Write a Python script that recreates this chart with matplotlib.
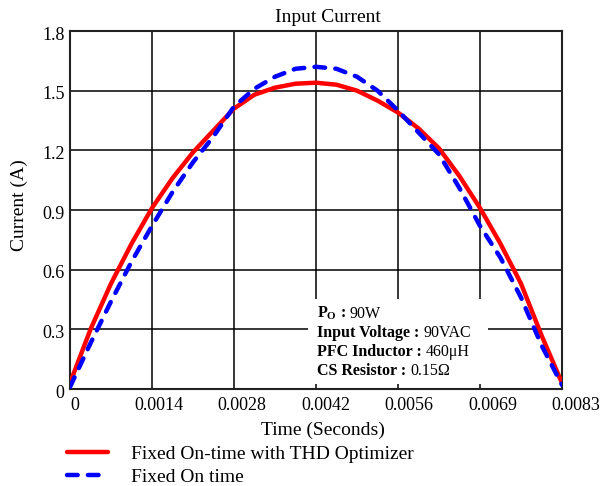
import numpy as np
import matplotlib
matplotlib.use('Agg')
import matplotlib.pyplot as plt
from matplotlib.patches import Rectangle
from matplotlib.transforms import ScaledTranslation

plt.rcParams['font.family'] = ['Liberation Serif', 'DejaVu Serif']
plt.rcParams['mathtext.fontset'] = 'custom'
plt.rcParams['mathtext.rm'] = 'Liberation Serif'
plt.rcParams['mathtext.bf'] = 'Liberation Serif:bold'

# Data (half line cycle, 1/120 s)
period = 1.0 / 120.0
n_points = 25
time_s = np.linspace(0, period, n_points)

current_thd_opt = [0.03, 0.30, 0.53, 0.73, 0.91, 1.06, 1.19, 1.30, 1.41, 1.48,
                   1.515, 1.535, 1.54, 1.53, 1.50, 1.45, 1.39, 1.31, 1.21, 1.07,
                   0.91, 0.73, 0.53, 0.27, 0.03]
current_fixed_on = [0.01, 0.23, 0.44, 0.64, 0.82, 0.99, 1.14, 1.27, 1.42, 1.51,
                    1.57, 1.61, 1.62, 1.61, 1.57, 1.50, 1.40, 1.29, 1.18, 1.01,
                    0.82, 0.66, 0.46, 0.22, 0.02]

x_ticks = np.linspace(0, period, 7)
x_tick_labels = ['0', '0.0014', '0.0028', '0.0042', '0.0056', '0.0069', '0.0083']
y_ticks = [0, 0.3, 0.6, 0.9, 1.2, 1.5, 1.8]
y_tick_labels = ['0', '0.3', '0.6', '0.9', '1.2', '1.5', '1.8']

series_labels = ['Fixed On-time with THD Optimizer', 'Fixed On time']

# (bold part, regular part) for the parameter box
info_bold = [r'$\mathbf{P_O}$ :', 'Input Voltage :', 'PFC Inductor :', 'CS Resistor :']
info_value = ['90W', '90VAC', '460μH', '0.15Ω']

fig = plt.figure(figsize=(6.03, 4.86), dpi=100)
ax = fig.add_axes([70 / 603, 1 - 389 / 486, 492 / 603, 358 / 486])

red_line, = ax.plot(time_s, current_thd_opt, color='#ff0000', lw=3.2,
                    solid_capstyle='round', zorder=3)
blue_line, = ax.plot(time_s, current_fixed_on, color='#0000ff', lw=3.2,
                     dashes=(2.4, 2.3), dash_capstyle='round', zorder=4)

ax.set_xlim(0, period)
ax.set_ylim(0, 1.8)
ax.set_xticks(x_ticks)
ax.set_xticklabels(x_tick_labels)
ax.set_yticks(y_ticks)
ax.set_yticklabels(y_tick_labels)
ax.tick_params(length=0, labelsize=13)
ax.tick_params(axis='x', pad=6)
ax.tick_params(axis='y', pad=4)
ax.grid(True, color='black', lw=1.1)
for sp in ax.spines.values():
    sp.set_linewidth(1.5)
    sp.set_color('#222222')

# x tick labels drift right of their grid lines in the reference
for i, lab in enumerate(ax.get_xticklabels()):
    dx = (5 + 1.5 * i) / 100
    lab.set_transform(lab.get_transform() + ScaledTranslation(dx, 0, fig.dpi_scale_trans))
shift_y = ScaledTranslation(0, -2 / 100, fig.dpi_scale_trans)
for lab in ax.get_yticklabels():
    lab.set_transform(lab.get_transform() + shift_y)

fig.text(328 / 603, 1 - 17 / 486, 'Input Current', fontsize=14,
         ha='center', va='center')
fig.text(323 / 603, 1 - 430 / 486, 'Time (Seconds)', fontsize=14,
         ha='center', va='center')
fig.text(19 / 603, 1 - 205 / 486, 'Current (A)', fontsize=14,
         ha='center', va='center', rotation=90)

# Parameter box
ax.add_patch(Rectangle((308 / 603, 1 - 384 / 486), 180 / 603, 85 / 486,
                       transform=fig.transFigure, facecolor='white',
                       edgecolor='none', zorder=5))
line_base = [318, 337, 356, 375]
renderer = fig.canvas.get_renderer()
for bold, value, yb in zip(info_bold, info_value, line_base):
    t = fig.text(317 / 603, 1 - yb / 486, bold, fontsize=11.5,
                 fontweight='bold', ha='left', va='baseline', zorder=6)
    x1 = t.get_window_extent(renderer).x1
    fig.text((x1 + 4) / 603, 1 - yb / 486, value, fontsize=11.5,
             ha='left', va='baseline', zorder=6)

fig.legend([red_line, blue_line], series_labels, loc='upper left',
           bbox_to_anchor=(67 / 603, 1 - 445 / 486), frameon=False,
           fontsize=14, handlelength=2.1, handletextpad=1.2,
           labelspacing=0.3, borderaxespad=0, borderpad=0)

fig.savefig('out.png', dpi=100)
